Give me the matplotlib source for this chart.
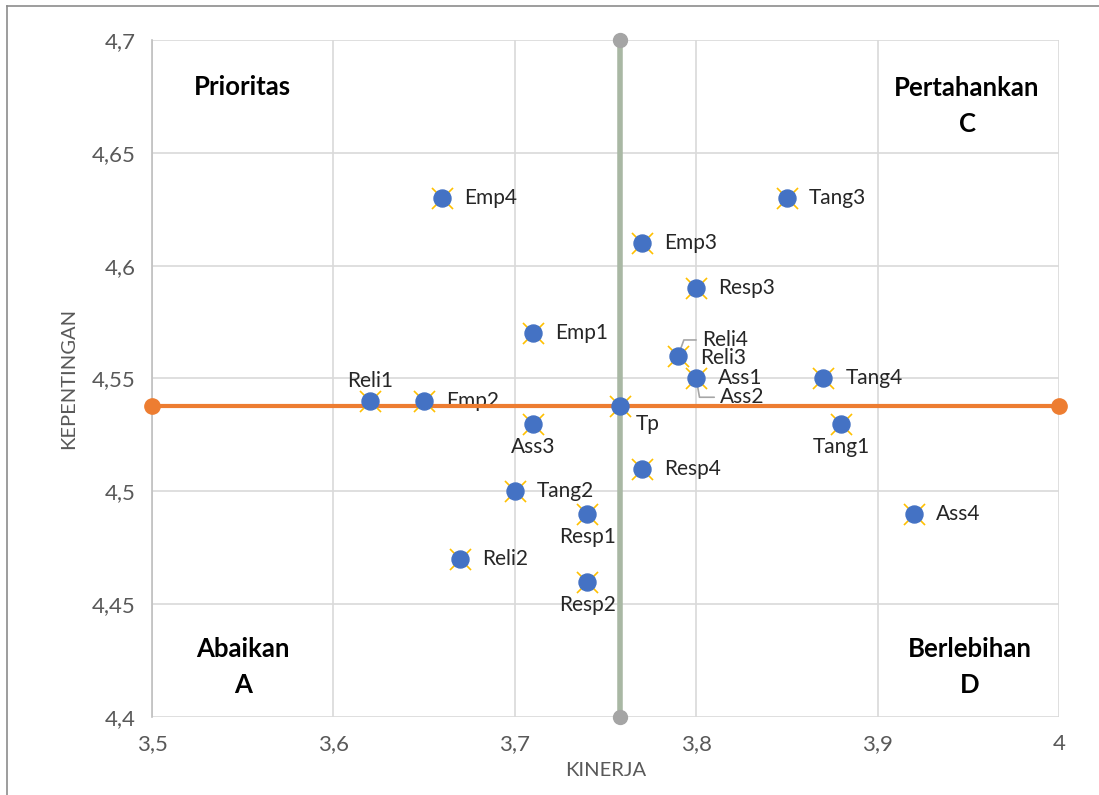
import matplotlib.pyplot as plt
from matplotlib.lines import Line2D

plt.rcParams['font.family'] = ['Lato', 'DejaVu Sans']

# data
labels = ["Emp4", "Tang3", "Emp3", "Resp3", "Emp1", "Reli3", "Ass1", "Tang4",
          "Reli1", "Emp2", "Ass3", "Tang1", "Resp4", "Tang2", "Resp1", "Ass4",
          "Reli2", "Resp2"]
kinerja = [3.66, 3.85, 3.77, 3.80, 3.71, 3.79, 3.80, 3.87,
           3.62, 3.65, 3.71, 3.88, 3.77, 3.70, 3.74, 3.92,
           3.67, 3.74]
kepentingan = [4.63, 4.63, 4.61, 4.59, 4.57, 4.56, 4.55, 4.55,
               4.54, 4.54, 4.53, 4.53, 4.51, 4.50, 4.49, 4.49,
               4.47, 4.46]
# hidden duplicates (same point as Reli3 / Ass1)
dup_labels = ["Reli4", "Ass2"]
dup_x = [3.79, 3.80]
dup_y = [4.56, 4.55]

tp_x = 3.758
tp_y = 4.538

x_ticks = [3.5, 3.6, 3.7, 3.8, 3.9, 4.0]
x_tick_labels = ["3,5", "3,6", "3,7", "3,8", "3,9", "4"]
y_ticks = [4.4, 4.45, 4.5, 4.55, 4.6, 4.65, 4.7]
y_tick_labels = ["4,4", "4,45", "4,5", "4,55", "4,6", "4,65", "4,7"]

GRAY_TXT = "#595959"
BLUE = "#4472C4"
ORANGE = "#ED7D31"
GOLD = "#FFC000"
FS = 15

fig = plt.figure(figsize=(10.99, 7.95), dpi=100)
ax = fig.add_axes([0.1383, 0.0981, 0.8253, 0.8516])

# figure frame (only top/left visible)
fig.add_artist(Line2D([0.0064, 0.0064], [0, 0.9925], transform=fig.transFigure,
                      color="#8c8c8c", lw=1.2))
fig.add_artist(Line2D([0.0064, 1.0], [0.9925, 0.9925], transform=fig.transFigure,
                      color="#8c8c8c", lw=1.2))

ax.set_xlim(3.5, 4.0)
ax.set_ylim(4.4, 4.7)
ax.set_xticks(x_ticks)
ax.set_xticklabels(x_tick_labels)
ax.set_yticks(y_ticks)
ax.set_yticklabels(y_tick_labels)
ax.tick_params(length=0, colors=GRAY_TXT, labelsize=16, pad=12)
ax.grid(True, color="#D9D9D9", lw=1.2)
ax.set_axisbelow(True)
for side in ["top", "right", "bottom"]:
    ax.spines[side].set_visible(False)
ax.spines["left"].set_color("#BFBFBF")
ax.spines["left"].set_linewidth(1.2)

ax.set_xlabel("KINERJA", color=GRAY_TXT, fontsize=14.5, labelpad=6)
ax.set_ylabel("KEPENTINGAN", color=GRAY_TXT, fontsize=14.5, labelpad=10)

# garis rata-rata
ax.plot([tp_x, tp_x], [4.4, 4.7], color="#A9B8A4", lw=4, zorder=3,
        marker="o", markersize=10, markerfacecolor="#A5A5A5", markeredgecolor="#A5A5A5",
        solid_capstyle="butt", clip_on=False)
ax.plot([3.5, 4.0], [tp_y, tp_y], color=ORANGE, lw=3, zorder=4,
        marker="o", markersize=11, markerfacecolor=ORANGE, markeredgecolor=ORANGE,
        clip_on=False)

# titik
all_x = kinerja + [tp_x]
all_y = kepentingan + [tp_y]
ax.scatter(all_x, all_y, marker="x", s=230, color=GOLD, lw=1.2, zorder=5)
ax.scatter(all_x, all_y, marker="o", s=150, color=BLUE, zorder=6)

below = {"Ass3", "Tang1", "Resp1", "Resp2"}
above = {"Reli1"}
for lab, x, y in zip(labels, kinerja, kepentingan):
    if lab in below:
        ax.annotate(lab, (x, y), xytext=(0, -16.5), textcoords="offset points",
                    ha="center", va="center", fontsize=FS, color="#262626")
    elif lab in above:
        ax.annotate(lab, (x, y), xytext=(0, 14.5), textcoords="offset points",
                    ha="center", va="center", fontsize=FS, color="#262626")
    elif lab == "Reli3":
        ax.annotate(lab, (x, y), xytext=(16, -1.5), textcoords="offset points",
                    ha="left", va="center", fontsize=FS, color="#262626")
    else:
        ax.annotate(lab, (x, y), xytext=(16, 0), textcoords="offset points",
                    ha="left", va="center", fontsize=FS, color="#262626")

ax.annotate("Tp", (tp_x, tp_y), xytext=(11, -13), textcoords="offset points",
            ha="left", va="center", fontsize=FS, color="#262626")

# label dengan garis penunjuk
leader = dict(arrowstyle="-", color="#A6A6A6", lw=1.2,
              connectionstyle="angle,angleA=0,angleB=70,rad=0", shrinkA=2, shrinkB=0)
ax.annotate(dup_labels[0], (dup_x[0], dup_y[0]), xytext=(17, 11.5),
            textcoords="offset points", ha="left", va="center", fontsize=FS,
            color="#262626", arrowprops=leader)
leader2 = dict(arrowstyle="-", color="#A6A6A6", lw=1.2,
               connectionstyle="angle,angleA=0,angleB=-80,rad=0", shrinkA=2, shrinkB=0)
ax.annotate(dup_labels[1], (dup_x[1], dup_y[1]), xytext=(17, -13.5),
            textcoords="offset points", ha="left", va="center", fontsize=FS,
            color="#262626", arrowprops=leader2)

# kuadran
qkw = dict(transform=fig.transFigure, ha="center", va="center", fontsize=18.5,
           fontweight="bold", color="black", linespacing=1.6)
fig.text(242 / 1099, 1 - 87 / 795, "Prioritas", **qkw)
fig.text(967 / 1099, 1 - 106 / 795, "Pertahankan\nC", **qkw)
fig.text(243 / 1099, 1 - 667 / 795, "Abaikan\nA", **qkw)
fig.text(970 / 1099, 1 - 667 / 795, "Berlebihan\nD", **qkw)

fig.savefig("out.png", dpi=100)
